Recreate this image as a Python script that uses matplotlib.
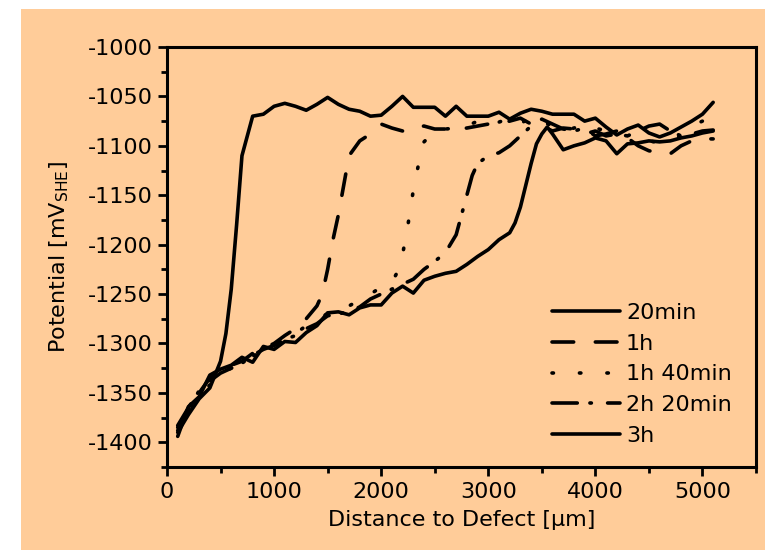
import matplotlib
matplotlib.use("Agg")
import matplotlib.pyplot as plt
from matplotlib.patches import Rectangle
from matplotlib.ticker import MultipleLocator

plt.rcParams['font.family'] = ['DejaVu Sans']
plt.rcParams['mathtext.fontset'] = 'dejavusans'
plt.rcParams['axes.unicode_minus'] = False

# Potential profiles (mV vs SHE) along the distance from the defect (µm)
x_20min = [100, 200, 300, 400, 500, 550, 600, 650, 700, 800, 900, 1000, 1100, 1200, 1300,
           1400, 1500, 1600, 1700, 1800, 1900, 2000, 2100, 2200, 2300, 2400, 2500, 2600,
           2700, 2800, 2900, 3000, 3100, 3200, 3300, 3400, 3500, 3600, 3700, 3800, 3900,
           4000, 4100, 4200, 4300, 4400, 4500, 4600, 4700, 4800, 4900, 5000, 5100]
y_20min = [-1390, -1372, -1356, -1345, -1318, -1290, -1245, -1180, -1110, -1070, -1068,
           -1060, -1057, -1060, -1064, -1058, -1051, -1058, -1063, -1065, -1070, -1069,
           -1060, -1050, -1061, -1061, -1061, -1070, -1060, -1070, -1070, -1070, -1066,
           -1073, -1067, -1063, -1065, -1068, -1068, -1068, -1075, -1072, -1081, -1089,
           -1083, -1079, -1087, -1091, -1087, -1081, -1075, -1068, -1056]

x_1h = [100, 200, 300, 400, 500, 600, 700, 800, 900, 1000, 1100, 1200, 1300, 1400, 1450,
        1500, 1550, 1600, 1650, 1700, 1800, 1900, 2000, 2100, 2200, 2300, 2400, 2500, 2600,
        2700, 2800, 2900, 3000, 3100, 3200, 3300, 3400, 3500, 3600, 3700, 3800, 3900, 4000,
        4100, 4200, 4300, 4400, 4500, 4600, 4700, 4800, 4900, 5000, 5100]
y_1h = [-1385, -1368, -1350, -1335, -1328, -1322, -1318, -1310, -1305, -1300, -1292, -1285,
        -1275, -1262, -1250, -1225, -1195, -1170, -1140, -1110, -1095, -1088, -1078, -1082,
        -1085, -1081, -1080, -1083, -1083, -1083, -1082, -1080, -1078, -1077, -1075, -1072,
        -1078, -1080, -1085, -1082, -1083, -1088, -1085, -1090, -1088, -1092, -1100, -1105,
        -1107, -1108, -1100, -1095, -1093, -1093]

x_1h40 = [100, 200, 300, 400, 500, 600, 700, 800, 900, 1000, 1100, 1200, 1300, 1400, 1500,
          1600, 1700, 1800, 1900, 2000, 2100, 2150, 2200, 2250, 2300, 2350, 2400, 2500, 2600,
          2700, 2800, 2900, 3000, 3100, 3200, 3300, 3400, 3500, 3600, 3700, 3800, 3900, 4000,
          4100, 4200, 4300, 4400, 4500, 4600, 4700, 4800, 4900, 5000, 5100]
y_1h40 = [-1388, -1372, -1352, -1342, -1330, -1325, -1318, -1313, -1306, -1300, -1295, -1290,
          -1282, -1275, -1270, -1268, -1262, -1256, -1250, -1243, -1238, -1228, -1210, -1180,
          -1145, -1118, -1096, -1085, -1083, -1082, -1080, -1075, -1079, -1076, -1072, -1078,
          -1070, -1075, -1080, -1085, -1082, -1078, -1082, -1085, -1088, -1090, -1092, -1095,
          -1097, -1095, -1090, -1080, -1075, -1068]

x_2h20 = [100, 200, 300, 400, 500, 600, 700, 800, 900, 1000, 1100, 1200, 1300, 1400, 1500,
          1600, 1700, 1800, 1900, 2000, 2100, 2200, 2300, 2400, 2500, 2600, 2700, 2750, 2800,
          2850, 2900, 3000, 3100, 3200, 3300, 3400, 3500, 3600, 3700, 3800, 3900, 4000, 4100,
          4200, 4300, 4400, 4500, 4600, 4700, 4800, 4900, 5000, 5100]
y_2h20 = [-1383, -1365, -1348, -1338, -1330, -1325, -1320, -1312, -1306, -1302, -1296, -1292,
          -1285, -1280, -1272, -1270, -1268, -1263, -1255, -1250, -1245, -1240, -1235, -1225,
          -1217, -1208, -1190, -1170, -1150, -1130, -1118, -1110, -1107, -1100, -1090, -1080,
          -1073, -1078, -1083, -1085, -1082, -1090, -1088, -1085, -1090, -1085, -1080, -1078,
          -1085, -1090, -1088, -1085, -1084]

x_3h = [100, 200, 300, 400, 500, 600, 700, 800, 900, 1000, 1100, 1200, 1300, 1400, 1500,
        1600, 1700, 1800, 1900, 2000, 2100, 2200, 2300, 2400, 2500, 2600, 2700, 2800, 2900,
        3000, 3100, 3200, 3250, 3300, 3350, 3400, 3450, 3500, 3550, 3600, 3700, 3800, 3900,
        4000, 4100, 4200, 4300, 4400, 4500, 4600, 4700, 4800, 4900, 5000, 5100]
y_3h = [-1394, -1364, -1354, -1332, -1326, -1322, -1314, -1319, -1303, -1306, -1298, -1299,
        -1289, -1282, -1269, -1268, -1271, -1264, -1261, -1261, -1249, -1242, -1249, -1236,
        -1232, -1229, -1227, -1220, -1212, -1205, -1195, -1188, -1178, -1162, -1140, -1118,
        -1098, -1088, -1081, -1088, -1104, -1100, -1097, -1092, -1095, -1108, -1098, -1097,
        -1095, -1096, -1095, -1092, -1090, -1087, -1085]

labels = ['20min', '1h', '1h 40min', '2h 20min', '3h']
series = [(x_20min, y_20min), (x_1h, y_1h), (x_1h40, y_1h40), (x_2h20, y_2h20), (x_3h, y_3h)]
styles = ['-', (0, (6, 6)), (0, (0.4, 7.2)), (0, (7, 3.5, 0.4, 4.5)), '-']

peach = '#FFCC99'
fig = plt.figure(figsize=(7.65, 5.5), dpi=100, facecolor='white')
fig.patches.append(Rectangle((21 / 765, 0), 1 - 21 / 765, 1 - 9 / 550,
                             transform=fig.transFigure, facecolor=peach,
                             edgecolor='none', zorder=-10))

ax = fig.add_axes([167 / 765, 1 - 467 / 550, (756 - 167) / 765, (467 - 47) / 550])
ax.set_facecolor(peach)

for (xs, ys), lab, ls in zip(series, labels, styles):
    ax.plot(xs, ys, color='black', lw=2.6, linestyle=ls, label=lab,
            dash_capstyle='round', solid_capstyle='round', solid_joinstyle='round')

ax.set_xlim(0, 5500)
ax.set_ylim(-1425, -1000)
ax.xaxis.set_major_locator(MultipleLocator(1000))
ax.xaxis.set_minor_locator(MultipleLocator(500))
ax.yaxis.set_major_locator(MultipleLocator(50))
ax.yaxis.set_minor_locator(MultipleLocator(25))
ax.set_yticks(range(-1400, -999, 50))

for s in ax.spines.values():
    s.set_linewidth(2.2)
ax.tick_params(which='major', direction='out', length=6.5, width=2.0, labelsize=16, pad=4)
ax.tick_params(which='minor', direction='out', length=4, width=2.0)
ax.tick_params(top=False, right=False, which='both')

ax.set_xlabel('Distance to Defect [µm]', fontsize=16, labelpad=6)
ax.set_ylabel(r'Potential [mV$_{\mathrm{SHE}}$]', fontsize=16, labelpad=12)

ax.legend(loc='upper left', bbox_to_anchor=(552 / 765, 1 - 303 / 550),
          bbox_transform=fig.transFigure, frameon=False, fontsize=16,
          handlelength=3.06, handletextpad=0.27, labelspacing=0.48,
          borderpad=0, borderaxespad=0)

fig.savefig('out.png', dpi=100, facecolor=fig.get_facecolor())
